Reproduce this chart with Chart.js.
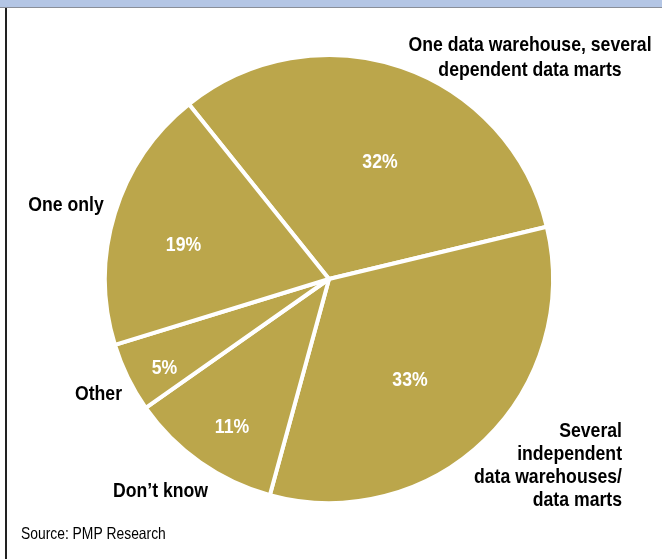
<!DOCTYPE html>
<html>
<head>
<meta charset="utf-8">
<script src="https://cdn.jsdelivr.net/npm/chart.js@4.4.0/dist/chart.umd.min.js"></script>
<style>
  html, body { margin: 0; padding: 0; background: #fff; }
  #wrap { position: relative; width: 662px; height: 559px; overflow: hidden; }
  #band { position: absolute; left: 0; top: 0; width: 662px; height: 7px; background: #B4C6E5; border-bottom: 1px solid #8a8f99; }
  #leftline { position: absolute; left: 5px; top: 8px; width: 1.5px; height: 551px; background: #222; }
  canvas { position: absolute; left: 0; top: 0; }
</style>
</head>
<body>
<div id="wrap">
  <canvas id="c" width="662" height="559"></canvas>
  <div id="band"></div>
  <div id="leftline"></div>
</div>
<script>
// Data (clockwise from the first slice)
const categories = [
  "One data warehouse, several dependent data marts",
  "Several independent data warehouses/ data marts",
  "Don\u2019t know",
  "Other",
  "One only"
];
const values = [32, 33, 11, 5, 19];
const percentLabels = ["32%", "33%", "11%", "5%", "19%"];
const outsideLabels = [
  ["One data warehouse, several", "dependent data marts"],
  ["Several", "independent", "data warehouses/", "data marts"],
  ["Don\u2019t know"],
  ["Other"],
  ["One only"]
];
const sourceText = "Source: PMP Research";

// Layout (offsets from pie centre, in px)
const pctPos = [[51, -117], [81, 101], [-97, 148], [-164.5, 89], [-145.5, -34]];
const outLayout = [
  { x: 201, y: -234, align: "center", lh: 25 },
  { x: 293, y: 152, align: "right", lh: 23 },
  { x: -168.5, y: 212, align: "center", lh: 23 },
  { x: -230.5, y: 115, align: "center", lh: 23 },
  { x: -263, y: -74, align: "center", lh: 23 }
];

const FONT = '"Liberation Sans", Arial, sans-serif';
const SX = 0.84; // horizontal condensing to mimic a narrow face

function narrowText(ctx, text, x, y, align) {
  ctx.save();
  ctx.translate(x, y);
  ctx.scale(SX, 1);
  ctx.textAlign = align;
  ctx.fillText(text, 0, 0);
  ctx.restore();
}

const labelPlugin = {
  id: "labels",
  afterDraw(chart) {
    const ctx = chart.ctx;
    const arc = chart.getDatasetMeta(0).data[0];
    const cx = arc.x, cy = arc.y;
    ctx.save();
    ctx.textBaseline = "middle";
    // percentages
    ctx.fillStyle = "#ffffff";
    ctx.font = "bold 21px " + FONT;
    percentLabels.forEach((t, i) => {
      narrowText(ctx, t, cx + pctPos[i][0], cy + pctPos[i][1], "center");
    });
    // outside category labels
    ctx.fillStyle = "#000000";
    ctx.font = "bold 21px " + FONT;
    outsideLabels.forEach((lines, i) => {
      const L = outLayout[i];
      lines.forEach((line, j) => {
        narrowText(ctx, line, cx + L.x, cy + L.y + j * L.lh, L.align);
      });
    });
    // source
    ctx.font = "16.5px " + FONT;
    narrowText(ctx, sourceText, 21, 534, "left");
    ctx.restore();
  }
};

new Chart(document.getElementById("c"), {
  type: "pie",
  data: {
    labels: categories,
    datasets: [{
      data: values,
      backgroundColor: "#BBA64B",
      borderColor: "#ffffff",
      borderWidth: 4,
      hoverOffset: 0
    }]
  },
  options: {
    responsive: false,
    animation: false,
    rotation: -38.7,
    radius: 224,
    layout: { padding: { left: 105, right: 109, top: 55, bottom: 56 } },
    plugins: {
      legend: { display: false },
      tooltip: { enabled: false }
    },
    events: []
  },
  plugins: [labelPlugin]
});
</script>
</body>
</html>
